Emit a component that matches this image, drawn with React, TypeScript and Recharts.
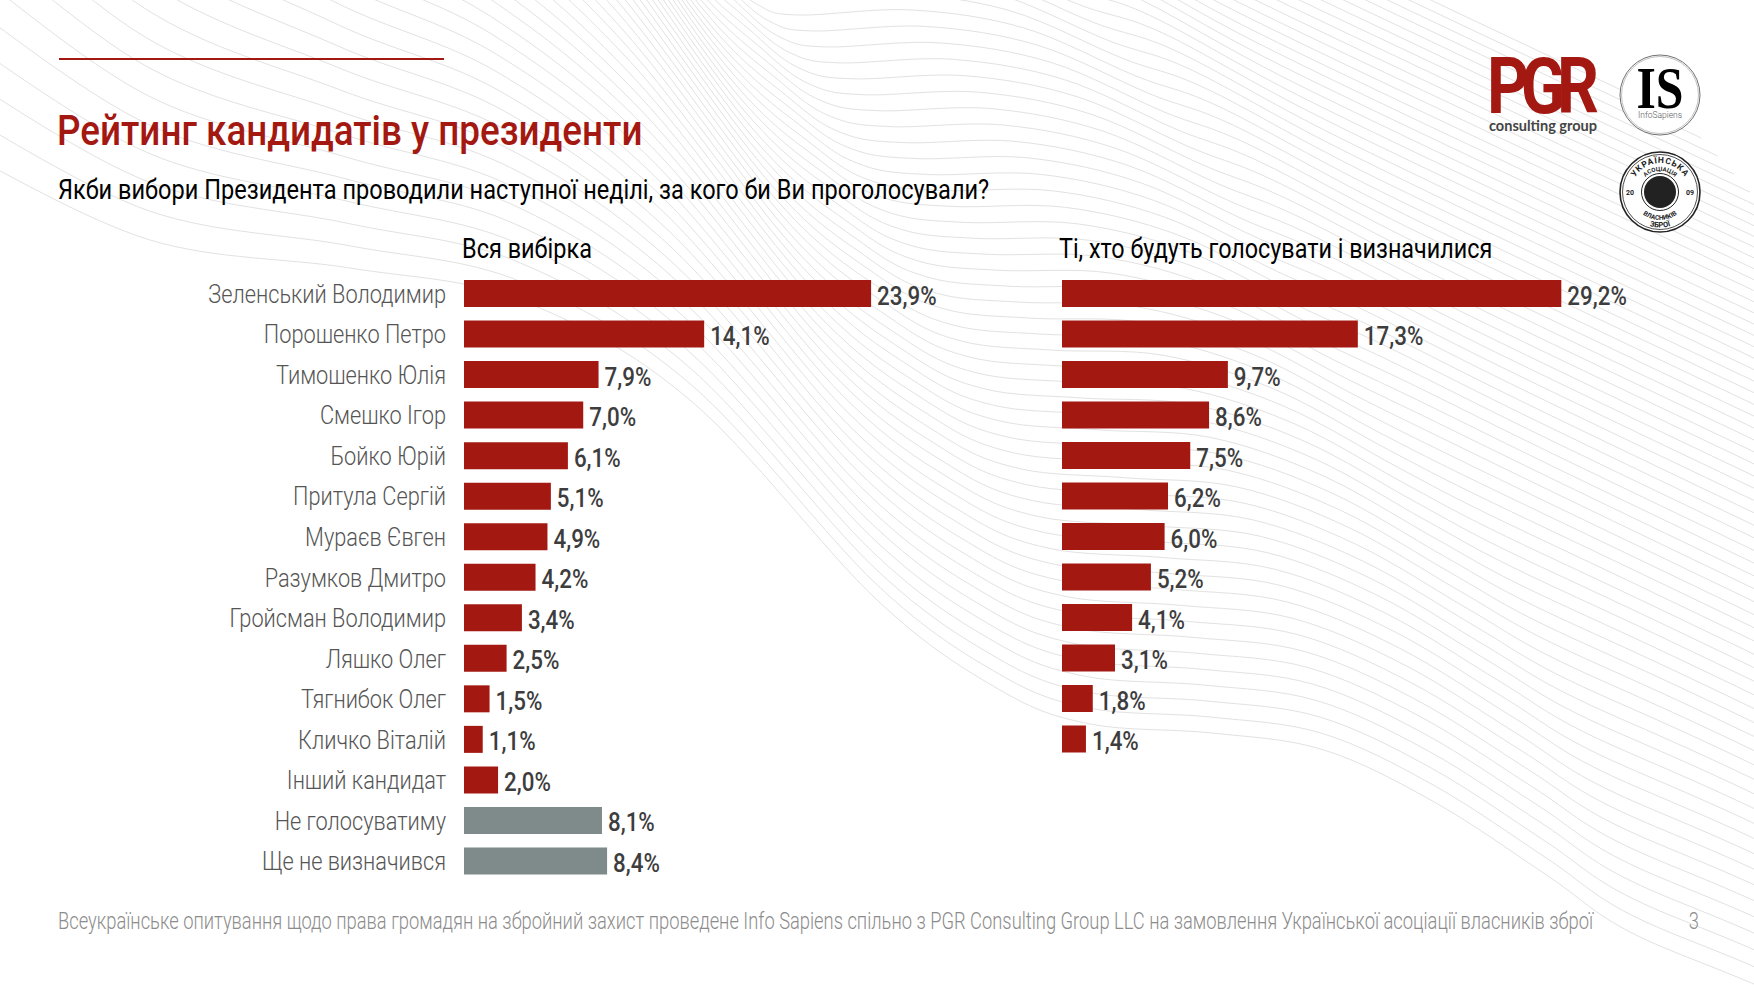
import { BarChart, Bar, XAxis, YAxis, Cell, LabelList } from "recharts";

const categories = [
  "Зеленський Володимир",
  "Порошенко Петро",
  "Тимошенко Юлія",
  "Смешко Ігор",
  "Бойко Юрій",
  "Притула Сергій",
  "Мураєв Євген",
  "Разумков Дмитро",
  "Гройсман Володимир",
  "Ляшко Олег",
  "Тягнибок Олег",
  "Кличко Віталій",
  "Інший кандидат",
  "Не голосуватиму",
  "Ще не визначився",
];
const allSample = [23.9, 14.1, 7.9, 7.0, 6.1, 5.1, 4.9, 4.2, 3.4, 2.5, 1.5, 1.1, 2.0, 8.1, 8.4];
const decided = [29.2, 17.3, 9.7, 8.6, 7.5, 6.2, 6.0, 5.2, 4.1, 3.1, 1.8, 1.4];
const greyRows = ["Не голосуватиму", "Ще не визначився"];

const RED = "#a31912";
const GREY = "#7f8a8a";
const FONT = "Roboto, sans-serif";

const leftData = categories.map((name, i) => ({ name, value: allSample[i] }));
const rightData = decided.map((value, i) => ({ name: categories[i], value }));

// background wave decoration: lowest line of the family and how far each of its points moves up the family
const waveBase = [[-40,150],[150,240],[350,268],[520,300],[690,400],[877,600],[1000,690],[1090,724],[1212,733],[1324,750],[1436,803],[1548,876],[1632,933],[1790,1000],[2072,1135],[2400,1290]];
const waveShift = [[0,-1700],[-60,-1300],[-120,-1000],[-150,-850],[-200,-760],[-240,-718],[-280,-718],[-330,-718],[-412,-718],[-412,-740],[-412,-775],[-412,-800],[-412,-826],[-412,-810],[-412,-810],[-412,-810]];

function wavePath(t: number) {
  const p = waveBase.map((a, i) => [a[0] + waveShift[i][0] * Math.pow(t, 1.5), a[1] + waveShift[i][1] * t]);
  let d = `M${p[0][0]},${p[0][1]}`;
  for (let i = 0; i < p.length - 1; i++) {
    const a = p[Math.max(i - 1, 0)], b = p[i], c = p[i + 1], e = p[Math.min(i + 2, p.length - 1)];
    d += ` C${b[0] + (c[0] - a[0]) / 6},${b[1] + (c[1] - a[1]) / 6} ${c[0] - (e[0] - b[0]) / 6},${c[1] - (e[1] - b[1]) / 6} ${c[0]},${c[1]}`;
  }
  return d;
}

function Waves() {
  const lines = [];
  for (let i = 0; i < 66; i++) lines.push(<path key={i} d={wavePath(i / 45)} fill="none" stroke="#e2e2e2" strokeWidth={1} />);
  return <svg width={1754} height={987} style={{ position: "absolute", left: 0, top: 0 }}>{lines}</svg>;
}

function Txt({ x, y, sx = 1, size, weight = 400, fill = "#000", anchor = "start", spacing, family = FONT, children }: any) {
  return (
    <text transform={`translate(${x},${y}) scale(${sx},1)`} fontFamily={family} fontSize={size} fontWeight={weight} fill={fill} textAnchor={anchor} letterSpacing={spacing}>
      {children}
    </text>
  );
}

function CategoryTick({ x, y, payload }: any) {
  return <Txt x={x} y={y + 9.5} sx={0.87} size={25} weight={300} fill="#555" anchor="end">{payload.value}</Txt>;
}

function ValueLabel({ x, y, width, height, value }: any) {
  return (
    <Txt x={x + width + 6} y={y + height / 2 + 11} sx={0.86} size={26} weight={500} fill="#3d3d3d">
      {value.toFixed(1).replace(".", ",") + "%"}
    </Txt>
  );
}

function Logos() {
  return (
    <g>
      <Txt x={1487} y={113} sx={0.84} size={78} weight={700} fill={RED} spacing={-10}>PGR</Txt>
      <text x={1489} y={131} fontFamily="Lato, sans-serif" fontWeight={700} fontSize={15} fill="#444" textLength={108} lengthAdjust="spacingAndGlyphs">consulting group</text>

      <circle cx={1660} cy={95} r={40} fill="#fff" stroke="#333" strokeWidth={0.7} />
      <circle cx={1660} cy={95} r={38.5} fill="none" stroke="#666" strokeWidth={0.4} />
      <text x={1660} y={108} fontFamily="Liberation Serif, serif" fontWeight={700} fontSize={60} fill="#000" textAnchor="middle" textLength={47} lengthAdjust="spacingAndGlyphs">IS</text>
      <text x={1660} y={118} fontFamily={FONT} fontWeight={300} fontSize={8.5} fill="#555" textAnchor="middle">InfoSapiens</text>

      <circle cx={1660} cy={192} r={40} fill="#fff" stroke="#222" strokeWidth={1.6} />
      <circle cx={1660} cy={192} r={37.5} fill="none" stroke="#222" strokeWidth={0.8} />
      <circle cx={1660} cy={192} r={18.5} fill="none" stroke="#222" strokeWidth={1} />
      <circle cx={1660} cy={192} r={16} fill="#222" />
      <path id="sealTop" d="M1631,192 A29,29 0 0 1 1689,192" fill="none" />
      <path id="sealMid" d="M1639,192 A21,21 0 0 1 1681,192" fill="none" />
      <path id="sealBot" d="M1624.5,192 A35.5,35.5 0 0 0 1695.5,192" fill="none" />
      <path id="sealLow" d="M1632,192 A28,28 0 0 0 1688,192" fill="none" />
      <text fontFamily={FONT} fontWeight={700} fontSize={8.5} fill="#222" letterSpacing={0.8}><textPath href="#sealTop" startOffset="50%" textAnchor="middle">УКРАЇНСЬКА</textPath></text>
      <text fontFamily={FONT} fontWeight={700} fontSize={6} fill="#222"><textPath href="#sealMid" startOffset="50%" textAnchor="middle">АСОЦІАЦІЯ</textPath></text>
      <text fontFamily={FONT} fontWeight={700} fontSize={7.5} fill="#222"><textPath href="#sealBot" startOffset="50%" textAnchor="middle">ЗБРОЇ</textPath></text>
      <text fontFamily={FONT} fontWeight={700} fontSize={6.5} fill="#222"><textPath href="#sealLow" startOffset="50%" textAnchor="middle">ВЛАСНИКІВ</textPath></text>
      <text x={1630} y={195} fontFamily={FONT} fontWeight={700} fontSize={7} fill="#222" textAnchor="middle">20</text>
      <text x={1690} y={195} fontFamily={FONT} fontWeight={700} fontSize={7} fill="#222" textAnchor="middle">09</text>
    </g>
  );
}

export default function App() {
  return (
    <div style={{ position: "absolute", left: 0, top: 0, width: 1754, height: 987, background: "#fff", overflow: "hidden" }}>
      <Waves />

      <div style={{ position: "absolute", left: 0, top: 270 }}>
        <BarChart width={975} height={611} layout="vertical" data={leftData} barCategoryGap={0} margin={{ top: 3, right: 0, bottom: 0, left: 0 }}>
          <XAxis type="number" domain={[0, 30]} hide />
          <YAxis type="category" dataKey="name" width={464} interval={0} axisLine={false} tickLine={false} tickMargin={12} tick={<CategoryTick />} />
          <Bar dataKey="value" barSize={27} isAnimationActive={false}>
            {leftData.map((d) => (
              <Cell key={d.name} fill={greyRows.includes(d.name) ? GREY : RED} />
            ))}
            <LabelList dataKey="value" content={<ValueLabel />} />
          </Bar>
        </BarChart>
      </div>

      <div style={{ position: "absolute", left: 1062, top: 270 }}>
        <BarChart width={690} height={489} layout="vertical" data={rightData} barCategoryGap={0} margin={{ top: 3, right: 177, bottom: 0, left: 0 }}>
          <XAxis type="number" domain={[0, 30]} hide />
          <YAxis type="category" dataKey="name" hide />
          <Bar dataKey="value" barSize={27} fill={RED} isAnimationActive={false}>
            <LabelList dataKey="value" content={<ValueLabel />} />
          </Bar>
        </BarChart>
      </div>

      <svg width={1754} height={987} style={{ position: "absolute", left: 0, top: 0, pointerEvents: "none" }}>
        <rect x={59} y={58} width={385} height={2} fill={RED} />
        <Txt x={57} y={145} sx={0.877} size={42} weight={500} fill={RED}>Рейтинг кандидатів у президенти</Txt>
        <Txt x={58} y={199} sx={0.873} size={27} weight={400}>Якби вибори Президента проводили наступної неділі, за кого би Ви проголосували?</Txt>
        <Txt x={462} y={258} sx={0.87} size={27} weight={400}>Вся вибірка</Txt>
        <Txt x={1059} y={258} sx={0.865} size={27} weight={400}>Ті, хто будуть голосувати і визначилися</Txt>
        <Txt x={58} y={929} sx={0.764} size={24} weight={300} fill="#8c8c8c">Всеукраїнське опитування щодо права громадян на збройний захист проведене Info Sapiens спільно з PGR Consulting Group LLC на замовлення Української асоціації власників зброї</Txt>
        <Txt x={1699} y={929} sx={0.763} size={24} weight={300} fill="#8c8c8c" anchor="end">3</Txt>
        <Logos />
      </svg>
    </div>
  );
}
